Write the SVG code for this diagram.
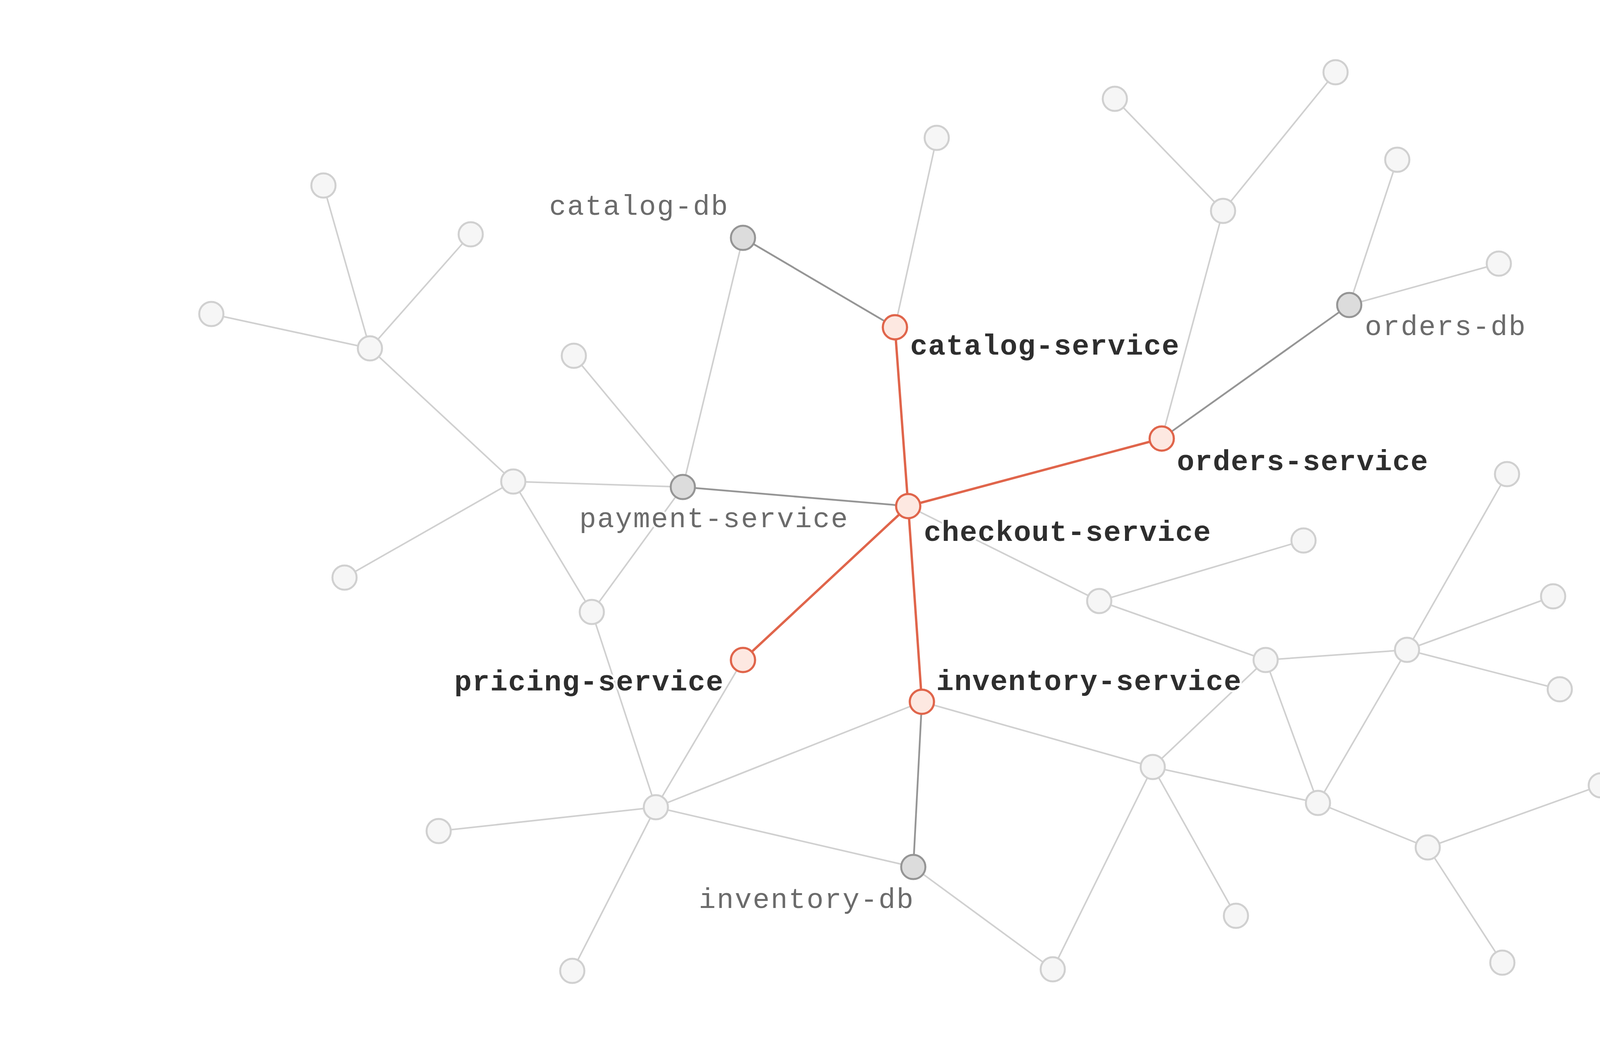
<svg xmlns="http://www.w3.org/2000/svg" width="4768" height="2681" viewBox="0 0 4768 2681">
<style>
.e{fill:none;stroke-linecap:round}
.el{stroke:#d0d0d0;stroke-width:4}
.eg{stroke:#959595;stroke-width:4.5}
.eo{stroke:#e0654b;stroke-width:6}
.nl{fill:#f6f6f6;stroke:#d0d0d0;stroke-width:5}
.ng{fill:#dcdcdc;stroke:#959595;stroke-width:5}
.no{fill:#fde8e1;stroke:#e0654b;stroke-width:5.5}
.t{font-family:"Liberation Mono","DejaVu Sans Mono",monospace;paint-order:stroke;stroke:#fff;stroke-width:10;stroke-linejoin:round}
.tb{font-size:74px;font-weight:bold;fill:#2e2e2e;letter-spacing:1.6px}
.tr{font-size:72px;fill:#6b6b6b;letter-spacing:2.8px}
</style>
<rect width="4768" height="2681" fill="#ffffff"/>
<g id="connectors">
<g class="e el">
<line x1="828" y1="475" x2="947" y2="892"/>
<line x1="1205" y1="600" x2="947" y2="892"/>
<line x1="541" y1="804" x2="947" y2="892"/>
<line x1="947" y1="892" x2="1314" y2="1233"/>
<line x1="1314" y1="1233" x2="1748" y2="1247"/>
<line x1="1314" y1="1233" x2="882" y2="1479"/>
<line x1="1314" y1="1233" x2="1515" y2="1567"/>
<line x1="1469" y1="911" x2="1748" y2="1247"/>
<line x1="1748" y1="1247" x2="1902" y2="609"/>
<line x1="1748" y1="1247" x2="1515" y2="1567"/>
<line x1="2291" y1="838" x2="2398" y2="353"/>
<line x1="2974" y1="1123" x2="3131" y2="540"/>
<line x1="3131" y1="540" x2="2854" y2="253"/>
<line x1="3131" y1="540" x2="3419" y2="185"/>
<line x1="3454" y1="781" x2="3577" y2="409"/>
<line x1="3454" y1="781" x2="3837" y2="675"/>
<line x1="2325" y1="1296" x2="2814" y2="1539"/>
<line x1="2814" y1="1539" x2="3337" y2="1384"/>
<line x1="2814" y1="1539" x2="3240" y2="1690"/>
<line x1="3240" y1="1690" x2="3602" y2="1664"/>
<line x1="3240" y1="1690" x2="2951" y2="1964"/>
<line x1="3240" y1="1690" x2="3374" y2="2056"/>
<line x1="3602" y1="1664" x2="3858" y2="1214"/>
<line x1="3602" y1="1664" x2="3976" y2="1527"/>
<line x1="3602" y1="1664" x2="3993" y2="1765"/>
<line x1="3602" y1="1664" x2="3374" y2="2056"/>
<line x1="2360" y1="1797" x2="1679" y2="2067"/>
<line x1="2360" y1="1797" x2="2951" y2="1964"/>
<line x1="1902" y1="1690" x2="1679" y2="2067"/>
<line x1="1515" y1="1567" x2="1679" y2="2067"/>
<line x1="1679" y1="2067" x2="1123" y2="2128"/>
<line x1="1679" y1="2067" x2="1465" y2="2486"/>
<line x1="1679" y1="2067" x2="2338" y2="2220"/>
<line x1="2338" y1="2220" x2="2695" y2="2482"/>
<line x1="2695" y1="2482" x2="2951" y2="1964"/>
<line x1="2951" y1="1964" x2="3164" y2="2345"/>
<line x1="2951" y1="1964" x2="3374" y2="2056"/>
<line x1="3374" y1="2056" x2="3655" y2="2170"/>
<line x1="3655" y1="2170" x2="4098" y2="2011"/>
<line x1="3655" y1="2170" x2="3846" y2="2465"/>
</g>
<g class="e eg">
<line x1="1748" y1="1247" x2="2325" y2="1296"/>
<line x1="1902" y1="609" x2="2291" y2="838"/>
<line x1="2974" y1="1123" x2="3454" y2="781"/>
<line x1="2360" y1="1797" x2="2338" y2="2220"/>
</g>
<g class="e eo">
<line x1="2291" y1="838" x2="2325" y2="1296"/>
<line x1="2325" y1="1296" x2="2974" y2="1123"/>
<line x1="2325" y1="1296" x2="1902" y2="1690"/>
<line x1="2325" y1="1296" x2="2360" y2="1797"/>
</g>
</g>
<g id="nodes">
<g id="n1"><circle class="nl" cx="828" cy="475" r="31"/></g>
<g id="n2"><circle class="nl" cx="1205" cy="600" r="31"/></g>
<g id="n3"><circle class="nl" cx="541" cy="804" r="31"/></g>
<g id="n4"><circle class="nl" cx="947" cy="892" r="31"/></g>
<g id="n5"><circle class="nl" cx="1314" cy="1233" r="31"/></g>
<g id="n6"><circle class="nl" cx="882" cy="1479" r="31"/></g>
<g id="n7"><circle class="nl" cx="1515" cy="1567" r="31"/></g>
<g id="n8"><circle class="nl" cx="1469" cy="911" r="31"/></g>
<g id="n12"><circle class="nl" cx="2398" cy="353" r="31"/></g>
<g id="n16"><circle class="nl" cx="3577" cy="409" r="31"/></g>
<g id="n17"><circle class="nl" cx="3837" cy="675" r="31"/></g>
<g id="n18"><circle class="nl" cx="3131" cy="540" r="31"/></g>
<g id="n19"><circle class="nl" cx="2854" cy="253" r="31"/></g>
<g id="n20"><circle class="nl" cx="3419" cy="185" r="31"/></g>
<g id="n24"><circle class="nl" cx="1679" cy="2067" r="31"/></g>
<g id="n25"><circle class="nl" cx="1123" cy="2128" r="31"/></g>
<g id="n26"><circle class="nl" cx="1465" cy="2486" r="31"/></g>
<g id="n27"><circle class="nl" cx="2695" cy="2482" r="31"/></g>
<g id="n28"><circle class="nl" cx="2814" cy="1539" r="31"/></g>
<g id="n29"><circle class="nl" cx="3337" cy="1384" r="31"/></g>
<g id="n30"><circle class="nl" cx="3240" cy="1690" r="31"/></g>
<g id="n31"><circle class="nl" cx="3602" cy="1664" r="31"/></g>
<g id="n32"><circle class="nl" cx="3858" cy="1214" r="31"/></g>
<g id="n33"><circle class="nl" cx="3976" cy="1527" r="31"/></g>
<g id="n34"><circle class="nl" cx="3993" cy="1765" r="31"/></g>
<g id="n35"><circle class="nl" cx="2951" cy="1964" r="31"/></g>
<g id="n36"><circle class="nl" cx="3164" cy="2345" r="31"/></g>
<g id="n37"><circle class="nl" cx="3374" cy="2056" r="31"/></g>
<g id="n38"><circle class="nl" cx="3655" cy="2170" r="31"/></g>
<g id="n39"><circle class="nl" cx="4098" cy="2011" r="31"/></g>
<g id="n40"><circle class="nl" cx="3846" cy="2465" r="31"/></g>
<g id="payment-service"><circle class="ng" cx="1748" cy="1247" r="31"/><text class="t tr" x="1483" y="1350">payment-service</text></g>
<g id="catalog-db"><circle class="ng" cx="1902" cy="609" r="31"/><text class="t tr" x="1406" y="550">catalog-db</text></g>
<g id="orders-db"><circle class="ng" cx="3454" cy="781" r="31"/><text class="t tr" x="3494" y="858">orders-db</text></g>
<g id="inventory-db"><circle class="ng" cx="2338" cy="2220" r="31"/><text class="t tr" x="1789" y="2325">inventory-db</text></g>
<g id="catalog-service"><circle class="no" cx="2291" cy="838" r="31"/><text class="t tb" x="2330" y="908">catalog-service</text></g>
<g id="checkout-service"><circle class="no" cx="2325" cy="1296" r="31"/><text class="t tb" x="2365" y="1385">checkout-service</text></g>
<g id="orders-service"><circle class="no" cx="2974" cy="1123" r="31"/><text class="t tb" x="3013" y="1204">orders-service</text></g>
<g id="pricing-service"><circle class="no" cx="1902" cy="1690" r="31"/><text class="t tb" x="1163" y="1768">pricing-service</text></g>
<g id="inventory-service"><circle class="no" cx="2360" cy="1797" r="31"/><text class="t tb" x="2397" y="1767">inventory-service</text></g>
</g>
</svg>
